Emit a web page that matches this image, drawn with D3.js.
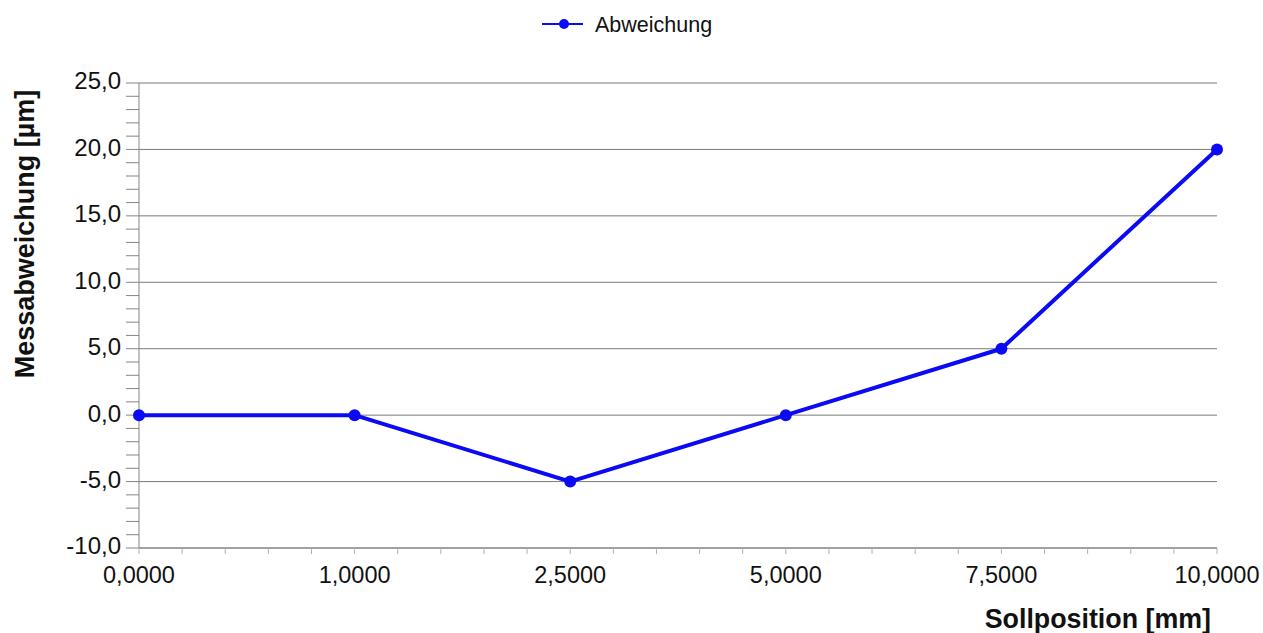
<!DOCTYPE html>
<html>
<head>
<meta charset="utf-8">
<script src="https://cdn.jsdelivr.net/npm/d3@7"></script>
<style>
  html, body { margin: 0; padding: 0; background: #fff; }
  svg { display: block; font-family: "Liberation Sans", Arial, sans-serif; }
</style>
</head>
<body>
<div id="chart"></div>
<script>
// data
const positions = ["0,0000", "1,0000", "2,5000", "5,0000", "7,5000", "10,0000"];
const deviations = [0, 0, -5, 0, 5, 20];
const yTickValues = [-10, -5, 0, 5, 10, 15, 20, 25];
const seriesName = "Abweichung";

const width = 1263;
const height = 633;
const margin = { top: 83, right: 46, bottom: 85, left: 139 };
const lineColor = "#0a0af5";
const axisColor = "#858585";

const svg = d3.select("#chart")
  .append("svg")
  .attr("width", width)
  .attr("height", height);

const x = d3.scalePoint()
  .domain(positions)
  .range([margin.left, width - margin.right]);

// helper scale for the minor ticks between categories
const xIdx = d3.scaleLinear()
  .domain([0, positions.length - 1])
  .range([margin.left, width - margin.right]);

const y = d3.scaleLinear()
  .domain([-10, 25])
  .range([height - margin.bottom, margin.top]);

const fmt = v => d3.format(".1f")(v).replace(".", ",").replace("\u2212", "-");

// horizontal grid lines
svg.append("g")
  .selectAll("line")
  .data(yTickValues)
  .enter()
  .append("line")
  .attr("x1", margin.left)
  .attr("x2", width - margin.right)
  .attr("y1", d => y(d))
  .attr("y2", d => y(d))
  .attr("stroke", "#7a7a7a")
  .attr("stroke-width", 1);

// y axis: line, minor ticks every 1, labels every 5
const yAxis = svg.append("g");
yAxis.append("line")
  .attr("x1", margin.left).attr("x2", margin.left)
  .attr("y1", y(-10)).attr("y2", y(25))
  .attr("stroke", axisColor);

yAxis.selectAll("line.minor")
  .data(d3.range(-10, 25.5, 1))
  .enter()
  .append("line")
  .attr("class", "minor")
  .attr("x1", margin.left - 13)
  .attr("x2", margin.left)
  .attr("y1", d => y(d))
  .attr("y2", d => y(d))
  .attr("stroke", axisColor);

yAxis.selectAll("text")
  .data(yTickValues)
  .enter()
  .append("text")
  .attr("x", margin.left - 18)
  .attr("y", d => y(d) - 2)
  .attr("dy", "0.35em")
  .attr("text-anchor", "end")
  .style("font-size", "24px")
  .style("fill", "#111")
  .text(fmt);

// x axis
const xAxis = svg.append("g");
xAxis.append("line")
  .attr("x1", margin.left).attr("x2", width - margin.right)
  .attr("y1", y(-10)).attr("y2", y(-10))
  .attr("stroke", axisColor);

xAxis.selectAll("line.minor")
  .data(d3.range(0, positions.length - 1 + 0.01, 0.2))
  .enter()
  .append("line")
  .attr("class", "minor")
  .attr("x1", d => xIdx(d))
  .attr("x2", d => xIdx(d))
  .attr("y1", y(-10))
  .attr("y2", y(-10) + 6)
  .attr("stroke", "#b0b0b0");

xAxis.selectAll("text")
  .data(positions)
  .enter()
  .append("text")
  .attr("x", d => x(d))
  .attr("y", y(-10) + 35)
  .attr("text-anchor", "middle")
  .style("font-size", "23.5px")
  .style("fill", "#111")
  .text(d => d);

// axis titles
svg.append("text")
  .attr("x", 1211)
  .attr("y", 628)
  .attr("text-anchor", "end")
  .style("font-size", "26.8px")
  .style("font-weight", "bold")
  .style("fill", "#111")
  .text("Sollposition [mm]");

svg.append("text")
  .attr("transform", "rotate(-90)")
  .attr("x", -234)
  .attr("y", 34)
  .attr("text-anchor", "middle")
  .style("font-size", "27px")
  .style("font-weight", "bold")
  .style("fill", "#111")
  .text("Messabweichung [µm]");

// series
const points = positions.map((p, i) => ({ pos: p, value: deviations[i] }));

const line = d3.line()
  .x(d => x(d.pos))
  .y(d => y(d.value));

svg.append("path")
  .datum(points)
  .attr("fill", "none")
  .attr("stroke", lineColor)
  .attr("stroke-width", 4)
  .attr("stroke-linejoin", "round")
  .attr("d", line);

svg.selectAll(".dot")
  .data(points)
  .enter()
  .append("circle")
  .attr("class", "dot")
  .attr("cx", d => x(d.pos))
  .attr("cy", d => y(d.value))
  .attr("r", 6)
  .attr("fill", lineColor);

// legend
const legend = svg.append("g").attr("transform", "translate(542, 24)");
legend.append("line")
  .attr("x1", 0).attr("x2", 41)
  .attr("y1", 0).attr("y2", 0)
  .attr("stroke", lineColor)
  .attr("stroke-width", 2);
legend.append("circle")
  .attr("cx", 22).attr("cy", 0).attr("r", 5)
  .attr("fill", lineColor);
legend.append("text")
  .attr("x", 53)
  .attr("y", 0)
  .attr("dy", "0.35em")
  .style("font-size", "21.5px")
  .style("fill", "#111")
  .text(seriesName);
</script>
</body>
</html>
